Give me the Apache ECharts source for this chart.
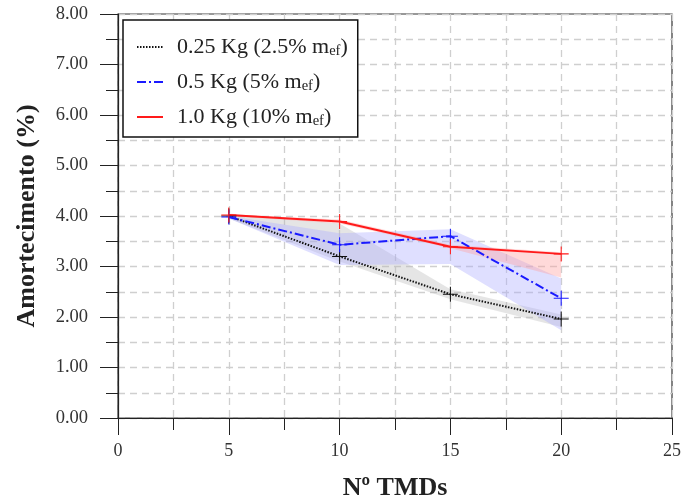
<!DOCTYPE html>
<html>
<head>
<meta charset="utf-8">
<script src="https://cdn.jsdelivr.net/npm/echarts@6/dist/echarts.min.js"></script>
<style>html,body{margin:0;padding:0;background:#fff}#c{width:681px;height:502px}</style>
</head>
<body>
<div id="c"></div>
<script>
const xValues = [5, 10, 15, 20];
const xTicks = [0, 5, 10, 15, 20, 25];
const yTicks = [0, 1, 2, 3, 4, 5, 6, 7, 8];
const names = ['0.25 Kg (2.5% m_ef)', '0.5 Kg (5% m_ef)', '1.0 Kg (10% m_ef)'];
const kg025 = [4.00, 3.20, 2.45, 1.96];
const kg05 = [3.98, 3.43, 3.60, 2.37];
const kg10 = [4.02, 3.89, 3.39, 3.25];
const band025Lo = [3.95, 3.10, 2.35, 1.80];
const band025Hi = [4.05, 3.85, 2.55, 2.05];
const band05Lo = [3.95, 3.03, 3.05, 1.74];
const band05Hi = [4.00, 3.66, 3.74, 2.76];
const band10Lo = [4.00, 3.85, 3.36, 2.78];
const band10Hi = [4.03, 3.93, 3.43, 3.28];

const font = 'Liberation Serif';
const plus = 'path://M-0.07,-1H0.07V-0.07H1V0.07H0.07V1H-0.07V0.07H-1V-0.07H-0.07Z';

function pts(ys) { return xValues.map((x, i) => [x, ys[i]]); }
function band(lo, hi, color) {
  return {
    type: 'custom', silent: true, z: 1, data: [0],
    renderItem: function (params, api) {
      const poly = pts(hi).concat(pts(lo).reverse()).map(p => api.coord(p));
      return { type: 'polygon', shape: { points: poly }, style: { fill: color } };
    }
  };
}
function line(name, ys, color, type, width) {
  return { type: 'line', name: name, data: pts(ys), symbol: plus, symbolSize: 15,
    itemStyle: { color: color }, lineStyle: { color: color, type: type, width: width }, z: 5 };
}

const chart = echarts.init(document.getElementById('c'));
chart.setOption({
  animation: false,
  backgroundColor: '#fff',
  textStyle: { fontFamily: font },
  grid: { left: 118, right: 9, top: 14, bottom: 84, show: true, borderColor: '#333', borderWidth: 1.2,
    outerBoundsMode: 'none', containLabel: false },
  legend: {
    orient: 'vertical', left: 123, top: 20,
    backgroundColor: '#fff', borderColor: '#111', borderWidth: 1.5,
    padding: [14, 10, 8, 13], itemGap: 10, itemWidth: 26, itemHeight: 14,
    itemStyle: { opacity: 0 },
    data: names,
    formatter: n => n.replace('m_ef', 'm{s|ef}'),
    textStyle: { fontFamily: font, fontSize: 22, lineHeight: 24, color: '#222', padding: [0, 0, 0, 9],
      rich: { s: { fontFamily: font, fontSize: 14.5, lineHeight: 24, color: '#222', verticalAlign: 'bottom', padding: [10, 0, 0, 0] } } }
  },
  xAxis: {
    type: 'value', min: xTicks[0], max: xTicks[xTicks.length - 1], interval: 5,
    name: 'Nº TMDs', nameLocation: 'middle', nameGap: 57,
    nameTextStyle: { fontFamily: font, fontSize: 26, fontWeight: 'bold', color: '#222' },
    axisLine: { lineStyle: { color: '#222', width: 1.2 } },
    axisTick: { length: 17, lineStyle: { color: '#222' } },
    minorTick: { show: true, splitNumber: 2, length: 12, lineStyle: { color: '#222' } },
    axisLabel: { margin: 24, fontFamily: font, fontSize: 18, color: '#333' },
    splitLine: { show: true, lineStyle: { color: '#cfcfcf', type: [7, 5], width: 1.3 } },
    minorSplitLine: { show: true, lineStyle: { color: '#cfcfcf', type: [7, 5], width: 1.3 } }
  },
  yAxis: {
    type: 'value', min: yTicks[0], max: yTicks[yTicks.length - 1], interval: 1,
    name: 'Amortecimento (%)', nameLocation: 'middle', nameGap: 78,
    nameTextStyle: { fontFamily: font, fontSize: 26, fontWeight: 'bold', color: '#222' },
    axisLine: { show: true, lineStyle: { color: '#222', width: 1.2 } },
    axisTick: { show: true, length: 18, lineStyle: { color: '#222' } },
    minorTick: { show: true, splitNumber: 2, length: 12, lineStyle: { color: '#222' } },
    axisLabel: { margin: 30, fontFamily: font, fontSize: 18.5, color: '#333', formatter: v => v.toFixed(2) },
    splitLine: { show: true, lineStyle: { color: '#cfcfcf', type: [7, 5], width: 1.3 } },
    minorSplitLine: { show: true, lineStyle: { color: '#cfcfcf', type: [7, 5], width: 1.3 } }
  },
  series: [
    band(band025Lo, band025Hi, 'rgba(180,180,180,0.35)'),
    band(band05Lo, band05Hi, 'rgba(170,170,255,0.38)'),
    band(band10Lo, band10Hi, 'rgba(255,160,160,0.40)'),
    line(names[0], kg025, '#111', [1.5, 1.5], 2),
    line(names[1], kg05, '#1a1aff', [9, 3, 2, 3], 2),
    line(names[2], kg10, '#ff1a1a', 'solid', 2)
  ]
});
</script>
</body>
</html>
